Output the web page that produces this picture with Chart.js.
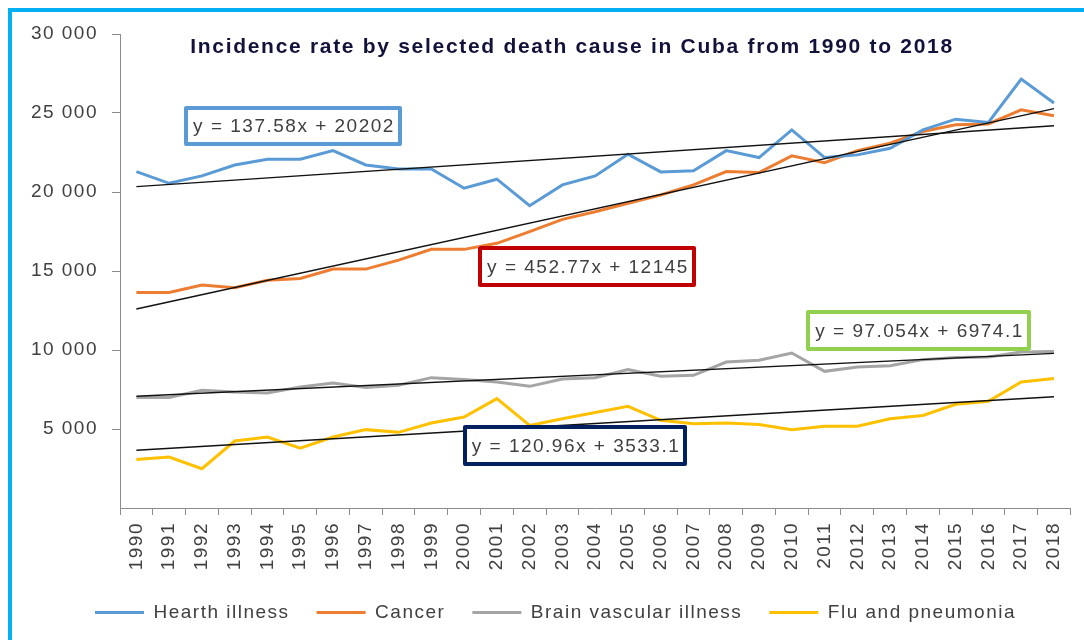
<!DOCTYPE html>
<html>
<head>
<meta charset="utf-8">
<script src="https://cdn.jsdelivr.net/npm/chart.js@4.4.1/dist/chart.umd.min.js"></script>
<style>
  html, body { margin: 0; padding: 0; background: #fff; }
  #wrap { position: relative; width: 1084px; height: 640px; overflow: hidden; }
  #frame { position: absolute; left: 8px; top: 8px; right: -10px; bottom: -10px;
           border-left: 4px solid #00b0f0; border-top: 4px solid #00b0f0; pointer-events: none; z-index: 2; }
  canvas { position: absolute; left: 0; top: 0; }
</style>
</head>
<body>
<div id="wrap">
  <canvas id="c" width="1084" height="640"></canvas>
  <div id="frame"></div>
</div>
<script>
const years = ['1990','1991','1992','1993','1994','1995','1996','1997','1998','1999','2000','2001','2002','2003','2004','2005','2006','2007','2008','2009','2010','2011','2012','2013','2014','2015','2016','2017','2018'];
const seriesNames = ['Hearth illness','Cancer','Brain vascular illness','Flu and pneumonia'];
const heartIllness = [21290,20550,21020,21710,22070,22070,22620,21710,21460,21460,20240,20810,19130,20450,21020,22390,21270,21350,22620,22180,23930,22180,22350,22770,23930,24610,24400,27150,25630];
const cancer = [13640,13640,14110,13940,14420,14530,15120,15120,15690,16370,16370,16750,17490,18270,18750,19290,19810,20450,21290,21230,22290,21860,22620,23090,23830,24250,24310,25200,24820];
const brainVascular = [6990,6990,7450,7340,7280,7660,7910,7620,7770,8250,8130,7980,7700,8170,8250,8760,8340,8400,9240,9350,9810,8650,8930,9010,9390,9520,9560,9880,9910];
const fluPneumonia = [3075,3220,2485,4240,4490,3790,4490,4960,4790,5380,5760,6920,5230,5650,6050,6440,5550,5340,5380,5290,4960,5170,5170,5650,5860,6560,6750,7980,8190];
const trendSlopes = [137.58, 452.77, 97.054, 120.96];
const trendIntercepts = [20202, 12145, 6974.1, 3533.1];
const equationLabels = ['y = 137.58x + 20202','y = 452.77x + 12145','y = 97.054x + 6974.1','y = 120.96x + 3533.1'];
const yTicks = [5000, 10000, 15000, 20000, 25000, 30000];
const titleText = 'Incidence rate by selected death cause in Cuba from 1990 to 2018';

const FONT = "'Liberation Sans', Arial, sans-serif";
const SPACING = '1.5px';
const colors = ['#5b9bd5','#ed7d31','#a5a5a5','#ffc000'];
const seriesData = [heartIllness, cancer, brainVascular, fluPneumonia];

// trendline: only endpoints (first/last category) from the displayed equation
function trendData(k) {
  return years.map((_, i) => (i === 0 || i === years.length - 1) ? trendSlopes[k] * (i + 1) + trendIntercepts[k] : null);
}

const datasets = [];
seriesData.forEach((d, k) => datasets.push({
  label: seriesNames[k], data: d, borderColor: colors[k], backgroundColor: colors[k],
  borderWidth: 3, pointRadius: 0, tension: 0, order: 2
}));
seriesData.forEach((d, k) => datasets.push({
  label: 'trend' + k, data: trendData(k), borderColor: '#111', backgroundColor: '#111',
  borderWidth: 1.4, pointRadius: 0, spanGaps: true, order: 1
}));

const boxLayout = [
  { x: 184, y: 106, w: 218, h: 40, color: '#5b9bd5' },
  { x: 478, y: 246, w: 218, h: 41, color: '#c00000' },
  { x: 806, y: 310, w: 225, h: 41, color: '#92d050' },
  { x: 463, y: 425, w: 224, h: 41, color: '#002060' }
];

const spacingPlugin = {
  id: 'spacing',
  beforeUpdate(c) { c.ctx.letterSpacing = SPACING; },
  beforeLayout(c) { c.ctx.letterSpacing = SPACING; },
  afterLayout(c) { if (c.legend) { c.legend.left += 20; } },
  beforeDraw(c) { c.ctx.letterSpacing = SPACING; }
};

const overlayPlugin = {
  id: 'overlay',
  afterDraw(c) {
    const ctx = c.ctx;
    ctx.save();
    // title
    ctx.letterSpacing = '1.7px';
    ctx.fillStyle = '#12123a';
    ctx.font = 'bold 21px ' + FONT;
    ctx.textAlign = 'center';
    ctx.textBaseline = 'middle';
    ctx.fillText(titleText, 572, 47);
    // equation boxes
    ctx.letterSpacing = SPACING;
    boxLayout.forEach((b, k) => {
      ctx.fillStyle = '#fff';
      ctx.fillRect(b.x, b.y, b.w, b.h);
      ctx.strokeStyle = b.color;
      ctx.lineWidth = 4;
      ctx.lineJoin = 'round';
      ctx.strokeRect(b.x + 2, b.y + 2, b.w - 4, b.h - 4);
      ctx.fillStyle = '#404040';
      ctx.font = '19px ' + FONT;
      ctx.textAlign = 'center';
      ctx.fillText(equationLabels[k], b.x + b.w / 2 + 1, b.y + b.h / 2 + 1);
    });
    ctx.restore();
  }
};

function fmt(v) { return String(v).replace(/\B(?=(\d{3})+(?!\d))/g, ' '); }

new Chart(document.getElementById('c'), {
  type: 'line',
  data: { labels: years, datasets },
  options: {
    responsive: false,
    animation: false,
    devicePixelRatio: 1,
    layout: { padding: { top: 34, left: 20, right: 13, bottom: 8 } },
    plugins: {
      title: { display: false },
      tooltip: { enabled: false },
      legend: {
        position: 'bottom',
        labels: {
          color: '#404040',
          font: { size: 19, family: FONT },
          boxWidth: 49, boxHeight: 3, padding: 27,
          generateLabels(chart) {
            return Chart.defaults.plugins.legend.labels.generateLabels(chart)
              .filter(l => l.datasetIndex < 4)
              .map(l => Object.assign(l, { fillStyle: colors[l.datasetIndex], strokeStyle: colors[l.datasetIndex], lineWidth: 0 }));
          }
        }
      }
    },
    scales: {
      x: {
        type: 'category',
        offset: true,
        grid: { offset: true, drawOnChartArea: false, drawTicks: true, tickLength: 7, color: '#8c8c8c' },
        border: { display: true, color: '#8c8c8c', width: 1 },
        ticks: { minRotation: 90, maxRotation: 90, autoSkip: false, padding: 7, color: '#404040', font: { size: 19, family: FONT } },
        afterFit(s) { s.height = 68; }
      },
      y: {
        min: 0, max: 30000,
        afterBuildTicks(s) { s.ticks = yTicks.map(v => ({ value: v })); },
        grid: { drawOnChartArea: false, drawTicks: true, tickLength: 8, color: '#8c8c8c' },
        border: { display: true, color: '#8c8c8c', width: 1 },
        ticks: { padding: 14, color: '#404040', font: { size: 19, family: FONT }, callback: v => fmt(v) },
        afterFit(s) { s.width = 100; }
      }
    }
  },
  plugins: [spacingPlugin, overlayPlugin]
});
</script>
</body>
</html>
